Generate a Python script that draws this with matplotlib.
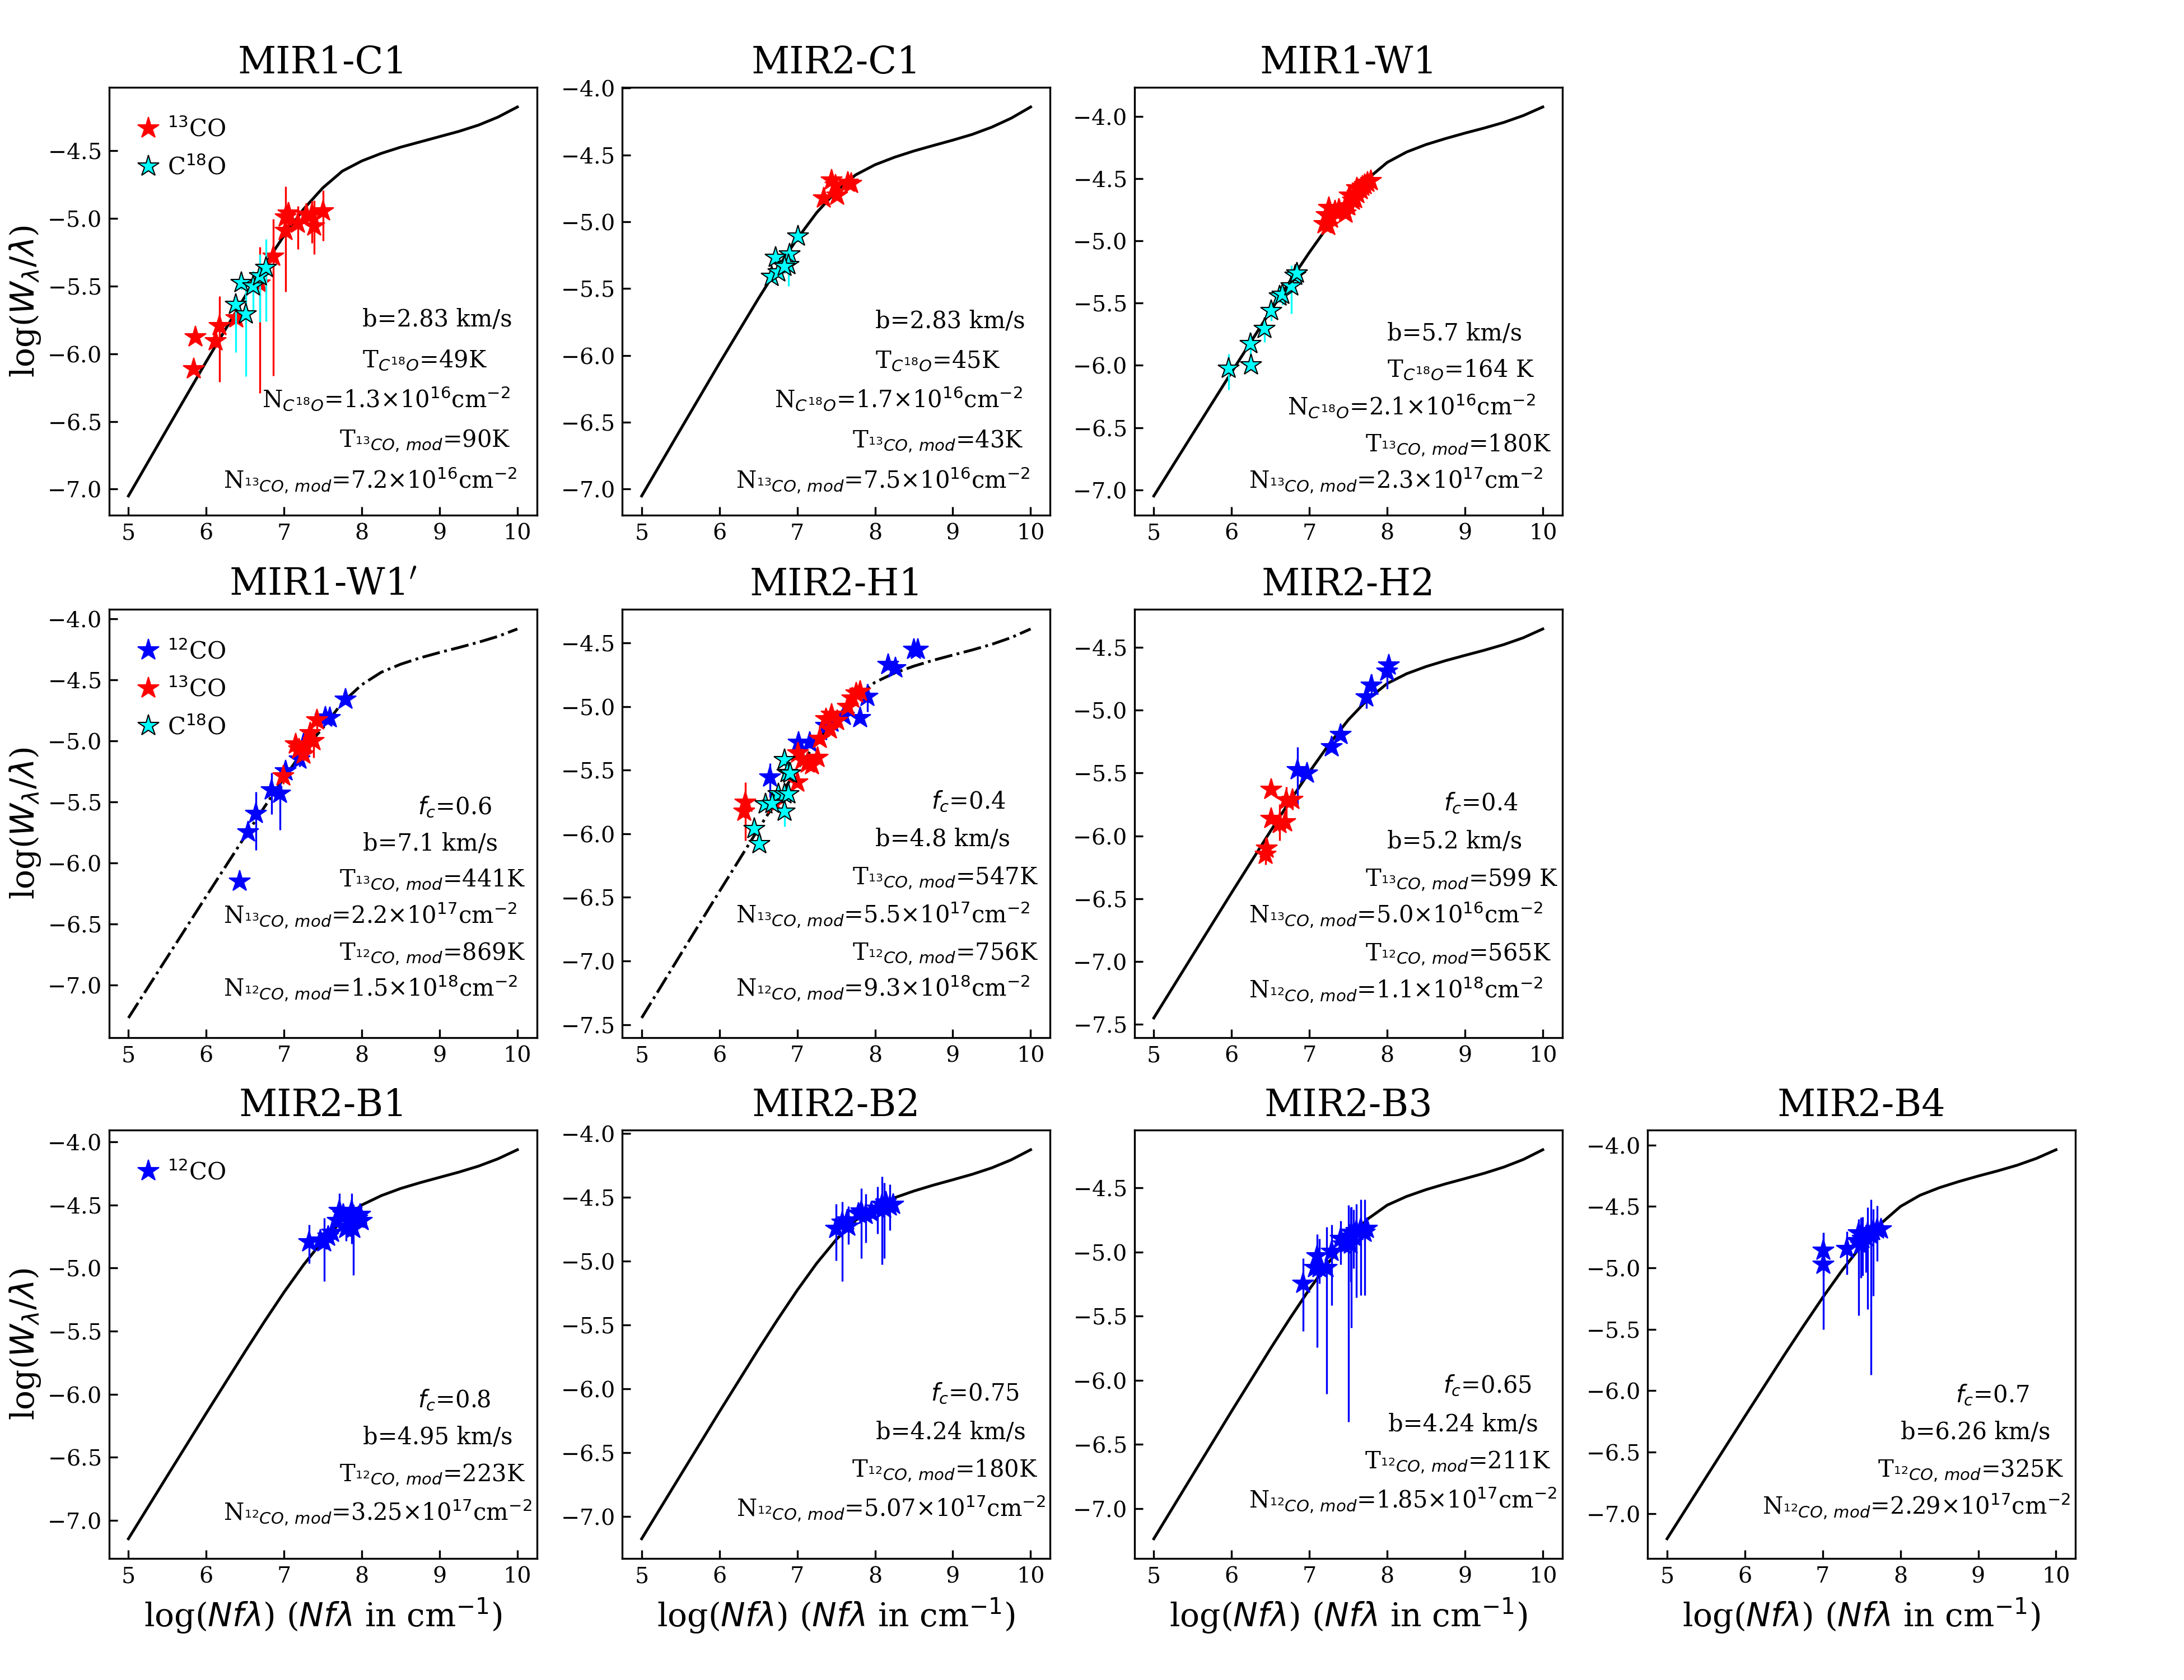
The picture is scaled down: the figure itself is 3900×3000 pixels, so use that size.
import matplotlib
matplotlib.use('Agg')
import matplotlib.pyplot as plt
from matplotlib.ticker import FuncFormatter

plt.rcParams['font.family'] = 'serif'
plt.rcParams['font.serif'] = ['DejaVu Serif']
plt.rcParams['mathtext.fontset'] = 'dejavusans'

# model curves of growth
CURVE_X = [5.0, 5.5, 6.0, 6.5, 6.75, 7.0, 7.25, 7.5, 7.75, 8.0, 8.25, 8.5, 8.75, 9.0, 9.25, 9.5, 9.75, 10.0]
CURVE_MIR1_C1 = [-7.051, -6.553, -6.058, -5.575, -5.344, -5.127, -4.932, -4.773, -4.650, -4.575, -4.519, -4.473, -4.434, -4.395, -4.356, -4.310, -4.251, -4.176]
CURVE_MIR2_C1 = [-7.051, -6.553, -6.058, -5.575, -5.344, -5.127, -4.932, -4.773, -4.650, -4.574, -4.518, -4.471, -4.430, -4.390, -4.347, -4.293, -4.226, -4.142]
CURVE_MIR1_W1 = [-7.050, -6.551, -6.054, -5.563, -5.323, -5.091, -4.871, -4.669, -4.499, -4.368, -4.284, -4.224, -4.176, -4.132, -4.091, -4.046, -3.991, -3.922]
CURVE_MIR1_W1P = [-7.272, -6.773, -6.275, -5.782, -5.541, -5.305, -5.079, -4.894, -4.686, -4.540, -4.438, -4.372, -4.320, -4.276, -4.235, -4.192, -4.144, -4.083]
CURVE_MIR2_H1 = [-7.448, -6.949, -6.453, -5.963, -5.725, -5.494, -5.279, -5.086, -4.928, -4.809, -4.737, -4.682, -4.636, -4.595, -4.555, -4.511, -4.458, -4.390]
CURVE_MIR2_H2 = [-7.448, -6.949, -6.452, -5.962, -5.723, -5.492, -5.274, -5.078, -4.915, -4.789, -4.711, -4.654, -4.607, -4.565, -4.524, -4.479, -4.425, -4.355]
CURVE_MIR2_B1 = [-7.147, -6.648, -6.152, -5.662, -5.423, -5.192, -4.976, -4.782, -4.622, -4.500, -4.426, -4.369, -4.323, -4.281, -4.239, -4.192, -4.134, -4.062]
CURVE_MIR2_B2 = [-7.175, -6.677, -6.180, -5.692, -5.456, -5.229, -5.018, -4.833, -4.681, -4.573, -4.505, -4.452, -4.406, -4.364, -4.321, -4.271, -4.208, -4.129]
CURVE_MIR2_B3 = [-7.237, -6.739, -6.242, -5.754, -5.518, -5.291, -5.080, -4.895, -4.743, -4.635, -4.567, -4.514, -4.469, -4.428, -4.386, -4.338, -4.279, -4.203]
CURVE_MIR2_B4 = [-7.205, -6.706, -6.209, -5.716, -5.476, -5.242, -5.020, -4.817, -4.638, -4.500, -4.409, -4.347, -4.297, -4.252, -4.210, -4.164, -4.108, -4.038]

# measured lines: (log Nf lambda, log W/lambda, err down, err up)
MIR1_C1_13CO = [(5.86, -5.876, 0, 0), (5.84, -6.114, 0, 0), (6.12, -5.905, 0.05, 0.05), (6.17, -5.796, 0.41, 0.22),
                (6.39, -5.738, 0.03, 0.03), (6.69, -5.479, 0.81, 0.27), (6.86, -5.283, 0.88, 0.28), (7.02, -4.992, 0.55, 0.23),
                (7.02, -5.090, 0.05, 0.05), (7.06, -4.963, 0.10, 0.08), (7.18, -5.037, 0.19, 0.13), (7.29, -4.971, 0.08, 0.08),
                (7.36, -4.971, 0.21, 0.10), (7.39, -5.056, 0.21, 0.19), (7.50, -4.944, 0.22, 0.15)]
MIR1_C1_C18O = [(6.38, -5.638, 0.35, 0.06), (6.45, -5.474, 0.05, 0.05), (6.51, -5.706, 0.46, 0.21),
                (6.60, -5.500, 0.19, 0.11), (6.69, -5.426, 0.34, 0.16), (6.77, -5.362, 0.40, 0.21)]

MIR2_C1_13CO = [(7.44, -4.690, 0.03, 0.03), (7.34, -4.824, 0.03, 0.03), (7.51, -4.802, 0.03, 0.03),
                (7.49, -4.730, 0.03, 0.03), (7.69, -4.717, 0.03, 0.03), (7.65, -4.709, 0.03, 0.03)]
MIR2_C1_C18O = [(7.01, -5.110, 0.04, 0.04), (6.90, -5.243, 0.05, 0.05), (6.72, -5.270, 0.04, 0.04),
                (6.89, -5.324, 0.16, 0.13), (6.67, -5.412, 0.03, 0.03), (6.76, -5.377, 0.04, 0.04), (6.84, -5.337, 0.05, 0.05)]

MIR1_W1_13CO = [(7.19, -4.862, 0.03, 0.03), (7.22, -4.790, 0.03, 0.03), (7.25, -4.733, 0.03, 0.03), (7.28, -4.819, 0.03, 0.03),
                (7.33, -4.761, 0.03, 0.03), (7.38, -4.747, 0.03, 0.03), (7.45, -4.747, 0.03, 0.03), (7.50, -4.718, 0.03, 0.03),
                (7.52, -4.632, 0.04, 0.04), (7.56, -4.675, 0.11, 0.03), (7.59, -4.661, 0.03, 0.03), (7.62, -4.618, 0.03, 0.03),
                (7.66, -4.589, 0.03, 0.03), (7.68, -4.560, 0.03, 0.03), (7.71, -4.546, 0.03, 0.03), (7.75, -4.532, 0.03, 0.03),
                (7.79, -4.517, 0.03, 0.03), (7.24, -4.876, 0.03, 0.03), (7.61, -4.575, 0.03, 0.03), (7.47, -4.776, 0.03, 0.03)]
MIR1_W1_C18O = [(5.96, -6.026, 0.17, 0.12), (6.25, -5.997, 0.03, 0.03), (6.24, -5.825, 0.09, 0.09), (6.42, -5.704, 0.11, 0.08),
                (6.51, -5.560, 0.08, 0.07), (6.62, -5.445, 0.05, 0.05), (6.65, -5.431, 0.08, 0.07), (6.77, -5.365, 0.22, 0.17),
                (6.82, -5.279, 0.06, 0.06), (6.84, -5.259, 0.06, 0.08)]

MIR1_W1P_12CO = [(6.43, -6.153, 0.03, 0.03), (6.54, -5.750, 0.04, 0.04), (6.64, -5.597, 0.30, 0.18), (6.84, -5.403, 0.20, 0.14),
                 (6.95, -5.431, 0.30, 0.19), (7.02, -5.250, 0.05, 0.05), (7.20, -5.153, 0.06, 0.08), (7.25, -5.028, 0.05, 0.05),
                 (7.53, -4.806, 0.04, 0.04), (7.59, -4.814, 0.04, 0.04), (7.79, -4.661, 0.04, 0.04)]
MIR1_W1P_13CO = [(6.99, -5.292, 0.06, 0.06), (7.15, -5.028, 0.05, 0.05), (7.19, -5.069, 0.05, 0.05), (7.25, -5.111, 0.05, 0.05),
                 (7.27, -5.028, 0.10, 0.07), (7.34, -4.936, 0.05, 0.05), (7.38, -5.000, 0.14, 0.10), (7.42, -4.833, 0.07, 0.06)]
MIR1_W1P_C18O = []

MIR2_H1_12CO = [(8.50, -4.554, 0.03, 0.03), (8.55, -4.554, 0.03, 0.03), (8.17, -4.672, 0.04, 0.04), (8.26, -4.699, 0.03, 0.03),
                (7.90, -4.922, 0.12, 0.10), (7.81, -5.091, 0.03, 0.03), (7.60, -5.070, 0.03, 0.03), (7.44, -5.124, 0.04, 0.04),
                (7.37, -5.151, 0.11, 0.13), (7.02, -5.285, 0.04, 0.04), (7.16, -5.285, 0.04, 0.04), (6.65, -5.554, 0.16, 0.11)]
MIR2_H1_13CO = [(6.33, -5.755, 0.30, 0.16), (6.32, -5.823, 0.05, 0.05), (6.71, -5.769, 0.04, 0.04), (7.00, -5.594, 0.04, 0.04),
                (7.01, -5.366, 0.04, 0.04), (7.07, -5.419, 0.04, 0.04), (7.13, -5.446, 0.04, 0.04), (7.19, -5.460, 0.04, 0.04),
                (7.26, -5.401, 0.04, 0.04), (7.29, -5.253, 0.04, 0.04), (7.37, -5.097, 0.04, 0.04), (7.44, -5.065, 0.04, 0.04),
                (7.42, -5.177, 0.04, 0.04), (7.51, -5.110, 0.04, 0.04), (7.65, -5.003, 0.03, 0.03), (7.71, -4.935, 0.03, 0.03),
                (7.76, -4.895, 0.03, 0.03), (7.81, -4.882, 0.03, 0.03)]
MIR2_H1_C18O = [(6.45, -5.962, 0.04, 0.04), (6.51, -6.078, 0.04, 0.04), (6.59, -5.769, 0.04, 0.04), (6.84, -5.419, 0.05, 0.05),
                (6.87, -5.522, 0.05, 0.05), (6.91, -5.527, 0.04, 0.04), (6.76, -5.688, 0.05, 0.05), (6.84, -5.688, 0.06, 0.06),
                (6.89, -5.688, 0.04, 0.04), (6.84, -5.823, 0.12, 0.12), (6.68, -5.763, 0.04, 0.04)]

MIR2_H2_12CO = [(8.02, -4.642, 0.05, 0.07), (8.00, -4.691, 0.14, 0.08), (7.80, -4.804, 0.08, 0.09), (7.73, -4.898, 0.09, 0.09),
                (7.40, -5.194, 0.04, 0.04), (7.29, -5.296, 0.04, 0.04), (6.85, -5.476, 0.30, 0.18), (6.97, -5.503, 0.04, 0.04)]
MIR2_H2_13CO = [(6.51, -5.632, 0.03, 0.03), (6.51, -5.866, 0.04, 0.04), (6.70, -5.718, 0.16, 0.11), (6.78, -5.712, 0.08, 0.08),
                (6.62, -5.906, 0.13, 0.16), (6.69, -5.892, 0.05, 0.05), (6.45, -6.099, 0.05, 0.05), (6.44, -6.148, 0.08, 0.13)]

MIR2_B1_12CO = [(7.32, -4.795, 0.17, 0.14), (7.47, -4.780, 0.05, 0.05), (7.52, -4.795, 0.31, 0.19), (7.62, -4.717, 0.05, 0.05),
                (7.71, -4.547, 0.14, 0.14), (7.76, -4.578, 0.05, 0.05), (7.82, -4.624, 0.05, 0.05), (7.87, -4.547, 0.26, 0.14),
                (7.89, -4.686, 0.37, 0.19), (7.94, -4.609, 0.06, 0.06), (7.98, -4.578, 0.05, 0.05), (8.00, -4.624, 0.05, 0.05),
                (7.80, -4.686, 0.10, 0.10), (7.69, -4.624, 0.05, 0.05), (7.57, -4.748, 0.05, 0.05)]

MIR2_B2_12CO = [(7.50, -4.745, 0.25, 0.19), (7.58, -4.698, 0.46, 0.16), (7.64, -4.682, 0.05, 0.05), (7.66, -4.730, 0.14, 0.16),
                (7.79, -4.629, 0.05, 0.05), (7.82, -4.610, 0.37, 0.18), (7.88, -4.635, 0.22, 0.16), (7.95, -4.619, 0.05, 0.05),
                (8.03, -4.588, 0.20, 0.17), (8.09, -4.557, 0.47, 0.22), (8.14, -4.541, 0.05, 0.05), (8.19, -4.572, 0.19, 0.17),
                (8.23, -4.557, 0.05, 0.05), (8.12, -4.588, 0.39, 0.20)]

MIR2_B3_12CO = [(6.92, -5.248, 0.37, 0.20), (7.10, -5.034, 0.71, 0.17), (7.07, -5.126, 0.05, 0.05), (7.13, -5.126, 0.12, 0.23),
                (7.22, -5.126, 0.98, 0.32), (7.29, -4.997, 0.42, 0.21), (7.40, -4.896, 0.20, 0.14), (7.44, -4.942, 0.05, 0.05),
                (7.50, -4.926, 1.40, 0.29), (7.54, -4.850, 0.74, 0.20), (7.57, -4.880, 0.25, 0.21), (7.60, -4.834, 0.52, 0.21),
                (7.66, -4.819, 0.52, 0.23), (7.71, -4.850, 0.49, 0.26), (7.74, -4.819, 0.05, 0.05), (7.53, -4.942, 0.29, 0.29)]

MIR2_B4_12CO = [(7.01, -4.859, 0.21, 0.14), (7.01, -4.971, 0.53, 0.26), (7.31, -4.843, 0.21, 0.14), (7.44, -4.779, 0.05, 0.05),
                (7.46, -4.715, 0.67, 0.11), (7.51, -4.763, 0.30, 0.18), (7.56, -4.747, 0.29, 0.10), (7.62, -4.731, 1.14, 0.29),
                (7.65, -4.699, 0.53, 0.18), (7.70, -4.683, 0.26, 0.19), (7.75, -4.683, 0.05, 0.05), (7.49, -4.811, 0.27, 0.22),
                (7.58, -4.715, 0.62, 0.21)]

TITLES = ['MIR1-C1', 'MIR2-C1', 'MIR1-W1', "MIR1-W1$'$", 'MIR2-H1', 'MIR2-H2', 'MIR2-B1', 'MIR2-B2', 'MIR2-B3', 'MIR2-B4']

NC18 = r'N$_{C^{18}O}$='
TC18 = r'T$_{C^{18}O}$='
T13 = r'T$_{^{13}CO,\,mod}$='
N13 = r'N$_{^{13}CO,\,mod}$='
T12 = r'T$_{^{12}CO,\,mod}$='
N12 = r'N$_{^{12}CO,\,mod}$='
FC = r'$f_c$='

NOTES = [
    [(0.592, 0.442, 'b=2.83 km/s'), (0.592, 0.346, TC18 + '49K'), (0.358, 0.253, NC18 + '1.3×10$^{16}$cm$^{-2}$'),
     (0.538, 0.160, T13 + '90K'), (0.267, 0.065, N13 + '7.2×10$^{16}$cm$^{-2}$')],
    [(0.591, 0.438, 'b=2.83 km/s'), (0.591, 0.345, TC18 + '45K'), (0.356, 0.253, NC18 + '1.7×10$^{16}$cm$^{-2}$'),
     (0.538, 0.159, T13 + '43K'), (0.266, 0.065, N13 + '7.5×10$^{16}$cm$^{-2}$')],
    [(0.591, 0.410, 'b=5.7 km/s'), (0.591, 0.324, TC18 + '164 K'), (0.358, 0.236, NC18 + '2.1×10$^{16}$cm$^{-2}$'),
     (0.540, 0.149, T13 + '180K'), (0.268, 0.065, N13 + '2.3×10$^{17}$cm$^{-2}$')],
    [(0.722, 0.522, FC + '0.6'), (0.593, 0.437, 'b=7.1 km/s'), (0.538, 0.353, T13 + '441K'),
     (0.267, 0.267, N13 + '2.2×10$^{17}$cm$^{-2}$'), (0.538, 0.181, T12 + '869K'), (0.267, 0.097, N12 + '1.5×10$^{18}$cm$^{-2}$')],
    [(0.722, 0.535, FC + '0.4'), (0.591, 0.448, 'b=4.8 km/s'), (0.538, 0.358, T13 + '547K'),
     (0.266, 0.269, N13 + '5.5×10$^{17}$cm$^{-2}$'), (0.538, 0.181, T12 + '756K'), (0.266, 0.097, N12 + '9.3×10$^{18}$cm$^{-2}$')],
    [(0.723, 0.530, FC + '0.4'), (0.591, 0.443, 'b=5.2 km/s'), (0.540, 0.354, T13 + '599 K'),
     (0.268, 0.269, N13 + '5.0×10$^{16}$cm$^{-2}$'), (0.540, 0.180, T12 + '565K'), (0.268, 0.093, N12 + '1.1×10$^{18}$cm$^{-2}$')],
    [(0.722, 0.353, FC + '0.8'), (0.593, 0.267, 'b=4.95 km/s'), (0.538, 0.180, T12 + '223K'),
     (0.267, 0.090, N12 + '3.25×10$^{17}$cm$^{-2}$')],
    [(0.721, 0.368, FC + '0.75'), (0.593, 0.279, 'b=4.24 km/s'), (0.537, 0.190, T12 + '180K'),
     (0.267, 0.099, N12 + '5.07×10$^{17}$cm$^{-2}$')],
    [(0.722, 0.387, FC + '0.65'), (0.593, 0.297, 'b=4.24 km/s'), (0.538, 0.210, T12 + '211K'),
     (0.267, 0.118, N12 + '1.85×10$^{17}$cm$^{-2}$')],
    [(0.720, 0.365, FC + '0.7'), (0.592, 0.279, 'b=6.26 km/s'), (0.538, 0.190, T12 + '325K'),
     (0.268, 0.104, N12 + '2.29×10$^{17}$cm$^{-2}$')],
]

L12 = '$^{12}$CO'
L13 = '$^{13}$CO'
L18 = 'C$^{18}$O'
STYLE = {L12: dict(color='blue', mec='blue', mew=0.5),
         L13: dict(color='red', mec='red', mew=0.5),
         L18: dict(color='cyan', mec='black', mew=0.5)}

# (curve, linestyle, [(label, points)], legend?)
PANELS = [
    (CURVE_MIR1_C1, '-', [(L13, MIR1_C1_13CO), (L18, MIR1_C1_C18O)], True),
    (CURVE_MIR2_C1, '-', [(L13, MIR2_C1_13CO), (L18, MIR2_C1_C18O)], False),
    (CURVE_MIR1_W1, '-', [(L13, MIR1_W1_13CO), (L18, MIR1_W1_C18O)], False),
    (CURVE_MIR1_W1P, '-.', [(L12, MIR1_W1P_12CO), (L13, MIR1_W1P_13CO), (L18, MIR1_W1P_C18O)], True),
    (CURVE_MIR2_H1, '-.', [(L12, MIR2_H1_12CO), (L13, MIR2_H1_13CO), (L18, MIR2_H1_C18O)], False),
    (CURVE_MIR2_H2, '-', [(L12, MIR2_H2_12CO), (L13, MIR2_H2_13CO)], False),
    (CURVE_MIR2_B1, '-', [(L12, MIR2_B1_12CO)], True),
    (CURVE_MIR2_B2, '-', [(L12, MIR2_B2_12CO)], False),
    (CURVE_MIR2_B3, '-', [(L12, MIR2_B3_12CO)], False),
    (CURVE_MIR2_B4, '-', [(L12, MIR2_B4_12CO)], False),
]

# axes positions in figure fraction
COL_LEFT = [0.0499, 0.2849, 0.5194, 0.7544]
ROW_BOTTOM = [0.6932, 0.3825, 0.0725]
AX_W = 0.1959
AX_H = 0.2547
GRID = [(0, 0), (0, 1), (0, 2), (1, 0), (1, 1), (1, 2), (2, 0), (2, 1), (2, 2), (2, 3)]


def ytick_fmt(v, pos):
    # long minus sign as in the original tick labels
    return ('$-$' if v < 0 else '') + '%.1f' % abs(v)


fig = plt.figure(figsize=(13, 10), dpi=300)

for k, (curve, ls, series, show_leg) in enumerate(PANELS):
    r, c = GRID[k]
    ax = fig.add_axes([COL_LEFT[c], ROW_BOTTOM[r], AX_W, AX_H])
    ax.plot(CURVE_X, curve, color='black', ls=ls, lw=1.2)
    for lab, pts in series:
        st = STYLE[lab]
        xs = [p[0] for p in pts]
        ys = [p[1] for p in pts]
        lo = [p[2] for p in pts]
        hi = [p[3] for p in pts]
        if pts:
            ax.errorbar(xs, ys, yerr=[lo, hi], fmt='none', ecolor=st['color'], elinewidth=0.8, capsize=0)
        ax.plot(xs, ys, ls='none', marker='*', ms=9.5, label=lab, **st)
    for tx, ty, s in NOTES[k]:
        ax.text(tx, ty, s, transform=ax.transAxes, fontsize=10, ha='left', va='baseline')
    ax.set_title(TITLES[k], fontsize=16)
    ax.yaxis.set_major_formatter(FuncFormatter(ytick_fmt))
    ax.tick_params(direction='in', labelsize=9.5, top=False, right=False)
    if c == 0:
        ax.set_ylabel(r'log($W_{\lambda}/\lambda$)', fontsize=14, labelpad=2)
    if r == 2:
        ax.set_xlabel(r'log($Nf\lambda$) ($Nf\lambda$ in cm$^{-1}$)', fontsize=14)
    if show_leg:
        ax.legend(loc='upper left', frameon=False, fontsize=10, handlelength=0.8,
                  handletextpad=0.4, numpoints=1, borderaxespad=0.9, labelspacing=0.6)

fig.savefig('out.png', dpi=300)
